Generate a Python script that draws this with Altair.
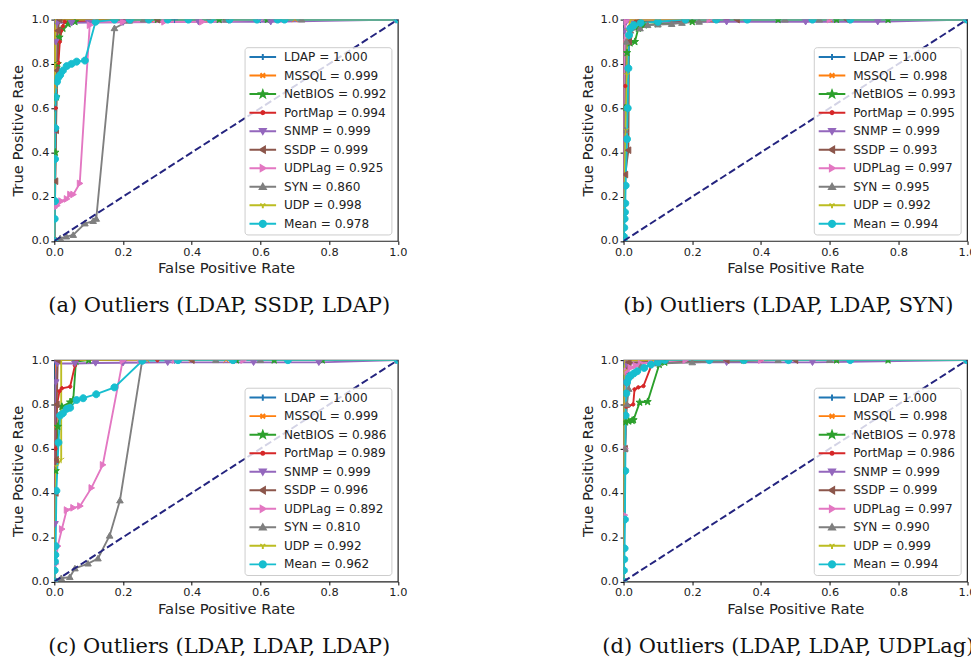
import math
import altair as alt
import pandas as pd

SERIES = ["LDAP", "MSSQL", "NetBIOS", "PortMap", "SNMP", "SSDP", "UDPLag", "SYN", "UDP", "Mean"]
COLORS = ["#1f77b4", "#ff7f0e", "#2ca02c", "#d62728", "#9467bd",
          "#8c564b", "#e377c2", "#7f7f7f", "#bcbd22", "#17becf"]
TICKS = [0.0, 0.2, 0.4, 0.6, 0.8, 1.0]
CAPTIONS = ["(a) Outliers (LDAP, SSDP, LDAP)", "(b) Outliers (LDAP, LDAP, SYN)",
            "(c) Outliers (LDAP, LDAP, LDAP)", "(d) Outliers (LDAP, LDAP, UDPLag)"]

AUC_A = ["1.000", "0.999", "0.992", "0.994", "0.999", "0.999", "0.925", "0.860", "0.998", "0.978"]
AUC_B = ["1.000", "0.998", "0.993", "0.995", "0.999", "0.993", "0.997", "0.995", "0.992", "0.994"]
AUC_C = ["1.000", "0.999", "0.986", "0.989", "0.999", "0.996", "0.892", "0.810", "0.992", "0.962"]
AUC_D = ["1.000", "0.998", "0.978", "0.986", "0.999", "0.999", "0.997", "0.990", "0.999", "0.994"]

DIAG_FPR = [0.0, 1.0]
DIAG_TPR = [0.0, 1.0]

# ---- panel (a): (fpr, tpr) ----
A_LDAP = ([0, 0, 0, 0.35, 0.6, 1], [0, 0.6, 1, 1, 1, 1])
A_MSSQL = ([0, 0.001, 0.002, 0.004, 0.28, 0.45, 0.7, 1], [0, 0.7, 0.95, 1, 1, 1, 1, 1])
A_NETBIOS = ([0, 0.003, 0.006, 0.01, 0.015, 0.025, 0.04, 0.06, 0.3, 0.48, 0.62, 1],
             [0, 0.4, 0.65, 0.8, 0.92, 0.96, 0.98, 0.99, 1, 1, 1, 1])
A_PORTMAP = ([0, 0.004, 0.01, 0.012, 0.016, 0.02, 0.025, 0.03, 0.2, 0.45, 1],
             [0, 0.6, 0.77, 0.805, 0.9, 0.95, 0.97, 0.99, 1, 1, 1])
A_SNMP = ([0, 0.002, 0.004, 0.008, 0.05, 0.1, 0.2, 0.42, 0.63, 1],
          [0, 0.5, 0.9, 0.985, 0.985, 0.987, 0.988, 0.99, 0.99, 1])
A_SSDP = ([0, 0.003, 0.005, 0.008, 0.01, 0.015, 0.3, 0.5, 1],
          [0, 0.27, 0.5, 0.77, 0.95, 1, 1, 1, 1])
A_UDPLAG = ([0, 0, 0.008, 0.02, 0.036, 0.046, 0.055, 0.074, 0.103, 0.12, 0.2, 0.32, 0.43, 0.6, 1],
            [0, 0.15, 0.16, 0.18, 0.19, 0.21, 0.21, 0.26, 0.975, 0.99, 0.99, 0.99, 0.99, 1, 1])
A_SYN = ([0, 0.017, 0.035, 0.055, 0.089, 0.113, 0.122, 0.175, 0.218, 0.26, 0.5, 0.72, 1],
         [0, 0.012, 0.02, 0.027, 0.079, 0.09, 0.1, 0.961, 0.995, 1, 1, 1, 1])
A_UDP = ([0, 0.002, 0.003, 1], [0, 0.8, 1, 1])
A_MEAN = ([0, 0.001, 0.002, 0.002, 0.003, 0.004, 0.008, 0.012, 0.017, 0.025, 0.036, 0.05, 0.065,
           0.089, 0.12, 0.175, 0.22, 0.275, 0.33, 0.39, 0.455, 0.51, 0.59, 0.65, 0.67, 1],
          [0, 0.1, 0.18, 0.37, 0.51, 0.65, 0.72, 0.74, 0.75, 0.77, 0.79, 0.8, 0.81,
           0.815, 0.99, 1, 1, 1, 1, 1, 1, 1, 1, 1, 1, 1])

# ---- panel (b) ----
B_LDAP = ([0, 0, 0.3, 1], [0, 1, 1, 1])
B_MSSQL = ([0, 0.002, 0.004, 0.25, 0.6, 1], [0, 0.9, 1, 1, 1, 1])
B_NETBIOS = ([0, 0.004, 0.01, 0.019, 0.033, 0.043, 0.06, 0.1, 0.2, 0.45, 0.62, 0.77, 1],
             [0, 0.6, 0.85, 0.894, 0.9, 0.96, 0.975, 0.98, 0.99, 1, 1, 1, 1])
B_PORTMAP = ([0, 0.005, 0.012, 0.019, 0.025, 0.035, 0.3, 1], [0, 0.7, 0.9, 0.92, 0.97, 0.99, 1, 1])
B_SNMP = ([0, 0.003, 0.008, 0.3, 0.53, 0.74, 1], [0, 0.95, 0.99, 0.99, 0.99, 0.99, 1])
B_SSDP = ([0, 0.005, 0.014, 0.016, 0.02, 0.04, 0.33, 0.65, 1], [0, 0.3, 0.41, 0.9, 0.97, 0.99, 1, 1, 1])
B_UDPLAG = ([0, 0.002, 0.005, 0.01, 0.25, 0.6, 1], [0, 0.9, 0.99, 1, 1, 1, 1])
B_SYN = ([0, 0.004, 0.008, 0.02, 0.048, 0.07, 0.1, 0.14, 0.17, 0.22, 0.27, 0.47, 0.57, 1],
         [0, 0.5, 0.9, 0.95, 0.96, 0.975, 0.978, 0.98, 0.985, 0.99, 1, 1, 1, 1])
B_UDP = ([0, 0.003, 0.006, 0.01, 0.013, 0.02, 1], [0, 0.25, 0.5, 0.75, 0.95, 1, 1])
B_MEAN = ([0, 0.001, 0.002, 0.003, 0.004, 0.005, 0.006, 0.01, 0.012, 0.014, 0.016, 0.02, 0.03,
           0.05, 0.1, 0.18, 0.27, 0.36, 0.55, 0.66, 1],
          [0, 0.02, 0.06, 0.1, 0.13, 0.17, 0.25, 0.46, 0.6, 0.78, 0.93, 0.96, 0.975,
           0.985, 0.99, 1, 1, 1, 1, 1, 1])

# ---- panel (c) ----
C_LDAP = ([0, 0, 0.35, 1], [0, 1, 1, 1])
C_MSSQL = ([0, 0.002, 0.005, 0.27, 0.4, 0.5, 1], [0, 0.7, 1, 1, 1, 1, 1])
C_NETBIOS = ([0, 0.004, 0.01, 0.022, 0.046, 0.055, 0.063, 0.1, 0.53, 0.64, 0.78, 1],
             [0, 0.5, 0.7, 0.79, 0.81, 0.82, 0.994, 1, 1, 1, 1, 1])
C_PORTMAP = ([0, 0.003, 0.008, 0.015, 0.022, 0.046, 0.06, 0.065, 0.3, 1],
             [0, 0.6, 0.8, 0.86, 0.873, 0.88, 0.976, 1, 1, 1])
C_SNMP = ([0, 0.002, 0.004, 0.008, 0.06, 0.12, 0.2, 0.33, 0.58, 0.77, 1],
          [0, 0.26, 0.9, 0.985, 0.985, 0.987, 0.988, 0.99, 0.99, 0.99, 1])
C_SSDP = ([0, 0.004, 0.005, 0.007, 0.01, 0.4, 1], [0, 0.4, 0.55, 0.8, 1, 1, 1])
C_UDPLAG = ([0, 0.004, 0.01, 0.022, 0.036, 0.055, 0.075, 0.108, 0.141, 0.199, 0.25, 0.35, 0.55, 1],
            [0, 0.08, 0.16, 0.237, 0.323, 0.333, 0.341, 0.423, 0.527, 0.997, 1, 1, 1, 1])
C_SYN = ([0, 0.02, 0.045, 0.06, 0.098, 0.127, 0.161, 0.191, 0.256, 0.47, 0.6, 1],
         [0, 0.015, 0.02, 0.059, 0.081, 0.104, 0.207, 0.366, 1, 1, 1, 1])
C_UDP = ([0, 0.005, 0.02, 0.02, 1], [0, 0.52, 0.55, 1, 1])
C_MEAN = ([0, 0.001, 0.002, 0.003, 0.004, 0.006, 0.012, 0.017, 0.025, 0.036, 0.046, 0.065, 0.084,
           0.122, 0.175, 0.256, 0.36, 0.52, 0.68, 1],
          [0, 0.05, 0.09, 0.12, 0.16, 0.41, 0.628, 0.75, 0.76, 0.78, 0.785, 0.82, 0.828,
           0.846, 0.877, 0.997, 1, 1, 1, 1])

# ---- panel (d) ----
D_LDAP = ([0, 0, 0.3, 1], [0, 1, 1, 1])
D_MSSQL = ([0, 0.002, 0.005, 0.3, 0.62, 1], [0, 0.8, 1, 1, 1, 1])
D_NETBIOS = ([0, 0.003, 0.006, 0.015, 0.025, 0.029, 0.047, 0.07, 0.104, 0.12, 0.35, 0.62, 0.77, 1],
             [0, 0.5, 0.72, 0.724, 0.727, 0.73, 0.809, 0.812, 0.98, 0.99, 1, 1, 1, 1])
D_PORTMAP = ([0, 0.004, 0.008, 0.015, 0.028, 0.032, 0.043, 0.058, 0.082, 0.1, 0.4, 1],
             [0, 0.6, 0.79, 0.794, 0.8, 0.868, 0.877, 0.883, 0.98, 0.99, 1, 1])
D_SNMP = ([0, 0.003, 0.008, 0.1, 0.3, 0.55, 1], [0, 0.9, 0.985, 0.99, 0.99, 0.99, 1])
D_SSDP = ([0, 0.004, 0.008, 0.015, 0.3, 0.5, 1], [0, 0.6, 0.95, 0.99, 1, 1, 1])
D_UDPLAG = ([0, 0.003, 0.005, 0.008, 0.02, 0.035, 0.05, 0.08, 0.18, 0.4, 1],
            [0, 0.3, 0.6, 0.95, 0.965, 0.975, 0.985, 0.99, 1, 1, 1])
D_SYN = ([0, 0.004, 0.01, 0.015, 0.02, 0.05, 0.1, 0.2, 0.45, 0.6, 1],
         [0, 0.6, 0.8, 0.87, 0.93, 0.97, 0.985, 0.99, 1, 1, 1])
D_UDP = ([0, 0.001, 0.003, 1], [0, 0.95, 1, 1])
D_MEAN = ([0, 0.001, 0.002, 0.003, 0.004, 0.005, 0.006, 0.008, 0.01, 0.015, 0.02, 0.03, 0.04,
           0.06, 0.08, 0.1, 0.12, 0.25, 0.35, 0.48, 0.66, 1],
          [0, 0.05, 0.1, 0.15, 0.28, 0.5, 0.75, 0.85, 0.9, 0.92, 0.93, 0.94, 0.95,
           0.965, 0.98, 0.99, 1, 1, 1, 1, 1, 1])

PANEL_A = [A_LDAP, A_MSSQL, A_NETBIOS, A_PORTMAP, A_SNMP, A_SSDP, A_UDPLAG, A_SYN, A_UDP, A_MEAN]
PANEL_B = [B_LDAP, B_MSSQL, B_NETBIOS, B_PORTMAP, B_SNMP, B_SSDP, B_UDPLAG, B_SYN, B_UDP, B_MEAN]
PANEL_C = [C_LDAP, C_MSSQL, C_NETBIOS, C_PORTMAP, C_SNMP, C_SSDP, C_UDPLAG, C_SYN, C_UDP, C_MEAN]
PANEL_D = [D_LDAP, D_MSSQL, D_NETBIOS, D_PORTMAP, D_SNMP, D_SSDP, D_UDPLAG, D_SYN, D_UDP, D_MEAN]


# ---- marker glyphs (style) ----
def circle_pts(r, n=20):
    return [(r * math.cos(2 * math.pi * k / n), r * math.sin(2 * math.pi * k / n)) for k in range(n)]


def star_pts():
    pts = []
    for k in range(10):
        ang = math.radians(-90 + 36 * k)
        r = 1.1 if k % 2 == 0 else 0.45
        pts.append((r * math.cos(ang), r * math.sin(ang)))
    return pts


MARKER_GEOM = {
    "LDAP": [([(-1, 0), (1, 0)], False), ([(0, -1), (0, 1)], False)],
    "MSSQL": [([(-0.75, -0.75), (0.75, 0.75)], False), ([(-0.75, 0.75), (0.75, -0.75)], False)],
    "NetBIOS": [(star_pts(), True)],
    "PortMap": [(circle_pts(0.5, 12), True)],
    "SNMP": [([(-0.95, -0.7), (0.95, -0.7), (0, 0.9)], True)],
    "SSDP": [([(0.7, -0.95), (0.7, 0.95), (-0.9, 0)], True)],
    "UDPLag": [([(-0.7, -0.95), (-0.7, 0.95), (0.9, 0)], True)],
    "SYN": [([(-0.95, 0.7), (0.95, 0.7), (0, -0.9)], True)],
    "UDP": [([(0, 0), (0, 1)], False), ([(0, 0), (-0.87, -0.5)], False), ([(0, 0), (0.87, -0.5)], False)],
    "Mean": [(circle_pts(1.0, 20), True)],
}


def to_path(geom, s):
    out = []
    for pts, closed in geom:
        out.append("M" + "L".join(f"{x * s:.3f},{y * s:.3f}" for x, y in pts) + ("Z" if closed else ""))
    return "".join(out)


MARK_PATHS = [to_path(MARKER_GEOM[n], 1.0) for n in SERIES]
LEGEND_PATHS = ["M-1,0L1,0" + to_path(MARKER_GEOM[n], 0.23) for n in SERIES]

W, H = 348.5, 224.6
TXT = "#222222"


def panel(curves, aucs, caption):
    labels = [f"{n} = {a}" for n, a in zip(SERIES, aucs)]
    rows = []
    for name, lab, (fx, ty) in zip(SERIES, labels, curves):
        for k, (x, y) in enumerate(zip(fx, ty)):
            rows.append({"series": name, "label": lab, "fpr": x, "tpr": y, "idx": k})
    df = pd.DataFrame(rows)
    diag = pd.DataFrame({"fpr": DIAG_FPR, "tpr": DIAG_TPR})

    xenc = alt.X("fpr:Q", scale=alt.Scale(domain=[0, 1], nice=False),
                 axis=alt.Axis(values=TICKS, format=".1f", title="False Positive Rate",
                               grid=False, labelFlush=False, titlePadding=3))
    yenc = alt.Y("tpr:Q", scale=alt.Scale(domain=[0, 1], nice=False),
                 axis=alt.Axis(values=TICKS, format=".1f", title="True Positive Rate",
                               grid=False, labelFlush=False, titlePadding=5))
    base = alt.Chart(df).encode(x=xenc, y=yenc)
    sscale = alt.Scale(domain=SERIES, range=COLORS)

    lines = base.mark_line(strokeWidth=1.9, clip=True).encode(
        stroke=alt.Stroke("series:N", scale=sscale, legend=None),
        order="idx:Q",
    )
    points = base.mark_point(filled=True, size=50, strokeWidth=1, opacity=1, clip=True).encode(
        fill=alt.Fill("series:N", scale=sscale, legend=None),
        stroke=alt.Stroke("series:N", scale=sscale, legend=None),
        shape=alt.Shape("series:N", scale=alt.Scale(domain=SERIES, range=MARK_PATHS), legend=None),
    )
    leg = alt.Legend(
        title=None, orient="bottom-right", offset=7, padding=4,
        fillColor="rgba(255,255,255,0.8)", strokeColor="#cccccc", cornerRadius=3,
        symbolSize=729, symbolStrokeWidth=2, symbolOpacity=1, symbolFillColor="#000000",
        labelFont="DejaVu Sans", labelFontSize=12.25, labelColor=TXT, labelOffset=7,
        rowPadding=5.8, labelLimit=0, clipHeight=12,
    )
    lscale = alt.Scale(domain=labels, range=COLORS)
    legend_layer = base.mark_point(filled=True, opacity=0, clip=True).encode(
        fill=alt.Fill("label:N", scale=lscale, legend=leg),
        stroke=alt.Stroke("label:N", scale=lscale, legend=leg),
        shape=alt.Shape("label:N", scale=alt.Scale(domain=labels, range=LEGEND_PATHS), legend=leg),
    )
    chance = alt.Chart(diag).mark_line(color="#24247f", strokeDash=[7.4, 3.2], strokeWidth=2,
                                       clip=True).encode(x=xenc, y=yenc)

    return alt.layer(lines, points, legend_layer, chance).resolve_scale(
        fill="independent", stroke="independent", shape="independent"
    ).properties(
        width=W, height=H,
        title=alt.TitleParams(caption, orient="bottom", anchor="middle", font="DejaVu Serif",
                              fontSize=21.3, fontWeight="normal", color="#111111", offset=20.5, dx=-7),
    )


pa = panel(PANEL_A, AUC_A, CAPTIONS[0])
pb = panel(PANEL_B, AUC_B, CAPTIONS[1])
pc = panel(PANEL_C, AUC_C, CAPTIONS[2])
pd_ = panel(PANEL_D, AUC_D, CAPTIONS[3])

chart = alt.concat(pa, pb, pc, pd_, columns=2, spacing={"row": 120.5, "column": 228.5},
                   bounds="flush").resolve_scale(
    fill="independent", stroke="independent", shape="independent"
).properties(
    padding={"left": 2, "top": 0, "right": -6, "bottom": 0}
).configure_view(
    stroke="#222222", strokeWidth=1.2
).configure_axis(
    domain=False, tickColor="#000000", tickSize=3.5, tickWidth=1,
    labelFont="DejaVu Sans", labelFontSize=11.5, labelColor=TXT, labelPadding=2,
    titleFont="DejaVu Sans", titleFontSize=15, titleFontWeight="normal", titleColor=TXT,
)

chart.save("out.html", embed_options={"renderer": "svg", "actions": False})
